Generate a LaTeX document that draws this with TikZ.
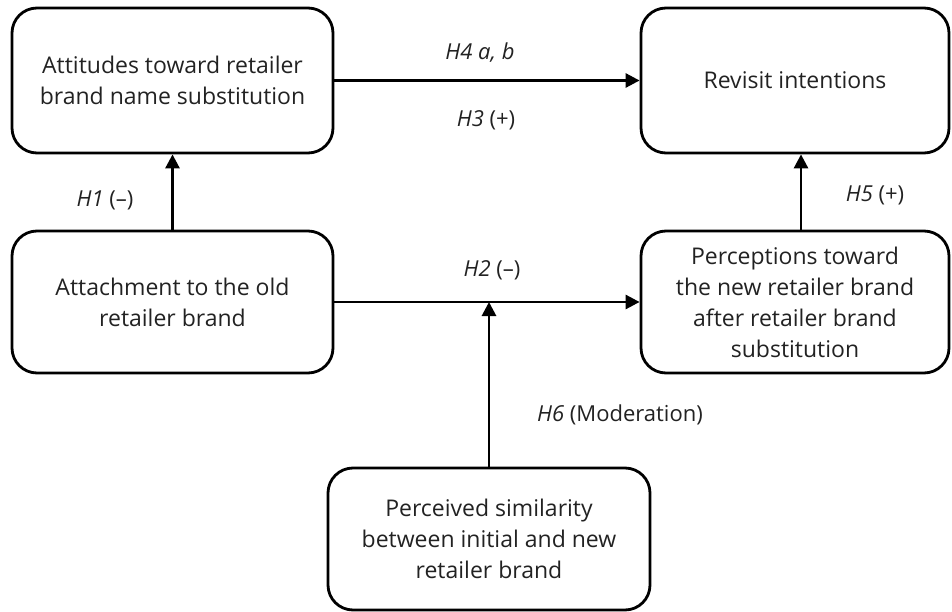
\documentclass[tikz,border=0pt]{standalone}
\usepackage{fontspec}
\setmainfont{Open Sans}
\usetikzlibrary{arrows.meta}
\definecolor{txt}{HTML}{222222}
\begin{document}
\begin{tikzpicture}[x=1pt,y=-1pt,
  box/.style={draw=black, line width=2.8pt, rounded corners=25pt, align=center, text=txt,
    font=\fontsize{23}{31}\selectfont, inner sep=0pt},
  conn/.style={line width=2.8pt, -{Triangle[length=14pt,width=14pt]}},
  lbl/.style={text=txt, font=\fontsize{22}{26}\selectfont, inner sep=0pt}]
\useasboundingbox (0,0) rectangle (952,612);
\node[box, minimum width=321pt, minimum height=145pt] (att) at (172.5,80.5) {Attitudes toward retailer\\brand name substitution};
\node[box, minimum width=308pt, minimum height=145pt] (rev) at (795,80.5) {Revisit intentions};
\node[box, minimum width=321pt, minimum height=142pt] (old) at (172.5,302) {Attachment to the old\\retailer brand};
\node[box, minimum width=308pt, minimum height=142pt] (per) at (795,302) {Perceptions toward\\the new retailer brand\\after retailer brand\\substitution};
\node[box, minimum width=322pt, minimum height=142pt] (sim) at (489,539) {Perceived similarity\\between initial and new\\retailer brand};
\coordinate (mod) at (489,302);
\draw[conn] (att.east) -- (rev.west);
\draw[conn] (old.north) -- (att.south);
\draw[conn] (per.north -| 801,0) -- (rev.south -| 801,0);
\draw[conn] (old.east) -- (per.west);
\draw[conn] (sim.north) -- (mod);
\node[lbl] (l4) at (480,53) {\textit{H4 a, b}};
\node[lbl] (l3) at (486,120) {\textit{H3} (+)};
\node[lbl] (l1) at (105,200) {\textit{H1} (–)};
\node[lbl] (l5) at (875,195) {\textit{H5} (+)};
\node[lbl] (l2) at (492,270) {\textit{H2} (–)};
\node[lbl] (l6) at (620,415) {\textit{H6} (Moderation)};
\end{tikzpicture}
\end{document}
